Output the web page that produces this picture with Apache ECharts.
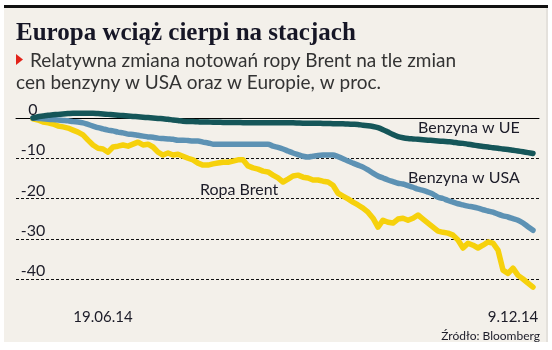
<!DOCTYPE html>
<html><head><meta charset="utf-8">
<script src="https://cdn.jsdelivr.net/npm/echarts@6/dist/echarts.min.js"></script>
<style>html,body{margin:0;padding:0;background:#fff}#c{width:552px;height:350px}</style>
</head><body><div id="c"></div>
<script>
// Relative change, % (one point per step along the period)
const brent = [
 -0.2,-0.5,-1.0,-1.2,-1.5,-2.0,-2.2,-2.5,-3.0,-3.5,
 -4.2,-5.5,-6.7,-7.5,-7.7,-8.5,-7.2,-7.0,-6.7,-7.0,
 -6.5,-6.0,-6.7,-6.5,-7.2,-8.5,-9.2,-8.7,-9.2,-9.0,
 -9.5,-10.0,-10.4,-11.2,-11.7,-11.7,-11.4,-11.2,-11.0,-11.0,
 -10.7,-10.4,-10.4,-11.9,-12.4,-12.7,-13.2,
 -13.4,-14.2,-14.9,-15.9,-15.2,-14.4,-14.2,-14.7,-14.9,-15.4,
 -15.4,-15.7,-15.9,-16.7,-18.7,-19.4,-20.1,-20.9,-21.6,-22.4,
 -23.4,-24.9,-27.1,-25.4,-25.9,-26.1,-25.1,-24.9,-25.4,-24.9,
 -24.1,-25.1,-26.1,-27.1,-28.1,-28.4,-28.6,-29.1,-30.3,-32.3,
 -31.1,-31.6,-32.3,-31.6,-30.8,-31.1,-32.8,-37.8,-38.6,-37.3,
 -39.1,-40.0,-41.0,-42.0
];
const usa = [
 0,-0.1,-0.2,-0.3,-0.4,-0.5,-0.6,-0.7,-0.9,-1.0,
 -1.2,-1.6,-2.0,-2.4,-2.7,-3.0,-3.2,-3.5,-3.7,-4.0,
 -4.1,-4.3,-4.5,-4.7,-4.8,-5.0,-5.1,-5.2,-5.3,-5.5,
 -5.5,-5.6,-5.7,-5.7,-6.0,-6.2,-6.5,-6.5,-6.5,-6.5,
 -6.5,-6.5,-6.5,-6.5,-6.5,-6.5,-6.5,-6.5,-7.0,-7.3,
 -7.7,-8.2,-8.7,-9.1,-9.5,-9.7,-9.5,-9.3,-9.2,-9.2,
 -9.2,-9.6,-10.1,-10.7,-11.2,-11.7,-12.2,-12.9,-13.7,-14.4,
 -14.9,-15.4,-15.8,-16.2,-16.4,-16.8,-17.2,-17.7,-18.0,-18.4,
 -18.9,-19.7,-20.0,-20.5,-20.9,-21.3,-21.6,-21.9,-22.1,-22.4,
 -22.8,-23.1,-23.4,-23.9,-24.3,-24.6,-25.0,-25.4,-26.1,-27.0,
 -27.9
];
const ue = [
 0,0.3,0.5,0.7,0.8,0.9,1.0,1.1,1.2,1.2,
 1.2,1.2,1.2,1.1,1.0,0.9,0.8,0.7,0.6,0.5,
 0.4,0.3,0.2,0.1,0.0,-0.1,-0.2,-0.3,-0.5,-0.6,
 -0.8,-0.85,-0.9,-0.95,-1.0,-1.0,-1.05,-1.05,-1.1,-1.1,
 -1.1,-1.1,-1.15,-1.15,-1.15,-1.2,-1.2,-1.2,-1.2,-1.2,
 -1.2,-1.2,-1.2,-1.25,-1.3,-1.3,-1.3,-1.3,-1.35,-1.35,
 -1.4,-1.4,-1.45,-1.5,-1.55,-1.6,-1.8,-1.9,-2.1,-2.4,
 -2.9,-3.5,-4.1,-4.6,-4.9,-5.1,-5.2,-5.3,-5.4,-5.5,
 -5.6,-5.7,-5.8,-5.9,-6.0,-6.2,-6.3,-6.5,-6.7,-6.9,
 -7.1,-7.2,-7.4,-7.5,-7.7,-7.8,-8.0,-8.2,-8.4,-8.6,
 -8.8
];
const seriesNames = ['Ropa Brent','Benzyna w USA','Benzyna w UE'];
const xTickPos = [14, 96];
const xTickLabels = ['19.06.14','9.12.14'];
const yMin = -40, yMax = 0, yStep = 10;
const titleText = 'Europa wciąż cierpi na stacjach';
const subLine1 = 'Relatywna zmiana notowań ropy Brent na tle zmian';
const subLine2 = 'cen benzyny w USA oraz w Europie, w proc.';
const sourceText = 'Źródło: Bloomberg';

const toPairs = arr => arr.map((v, i) => [i, v]);
const SANS = 'Lato, "Open Sans", sans-serif';
const ink = '#1c1c28';

const chart = echarts.init(document.getElementById('c'), null, {renderer: 'canvas'});
chart.setOption({
  animation: false,
  backgroundColor: 'transparent',
  grid: {left: 16, right: 13, top: 118, bottom: 71, containLabel: false},
  xAxis: {
    type: 'value', min: -3.4, max: 101.2, offset: 25,
    axisLine: {show: true, lineStyle: {color: '#000', width: 1}},
    axisTick: {show: false},
    splitLine: {show: false},
    axisLabel: {
      customValues: xTickPos, margin: 6, color: ink, fontSize: 15, fontFamily: SANS,
      formatter: v => xTickLabels[xTickPos.indexOf(v)] || ''
    }
  },
  yAxis: {
    type: 'value', min: yMin, max: yMax, interval: yStep,
    axisLine: {show: false}, axisTick: {show: false},
    splitLine: {show: true, lineStyle: {color: '#111', width: 1, type: [3, 2]}},
    axisLabel: {inside: true, margin: 17, align: 'center', verticalAlign: 'bottom',
      color: ink, fontSize: 16, fontFamily: SANS}
  },
  series: [
    {name: seriesNames[0], type: 'line', data: toPairs(brent), showSymbol: false, clip: false,
      lineStyle: {color: '#f6d10c', width: 5.5, join: 'round', cap: 'round'}, z: 2},
    {name: seriesNames[1], type: 'line', data: toPairs(usa), showSymbol: false, clip: false, smooth: 0.3,
      lineStyle: {color: '#5d92b4', width: 5.5, cap: 'round'}, z: 3},
    {name: seriesNames[2], type: 'line', data: toPairs(ue), showSymbol: false, clip: false, smooth: 0.3,
      lineStyle: {color: '#155659', width: 5.5, cap: 'round'}, z: 4}
  ],
  graphic: [
    {type: 'rect', z: -10, silent: true, shape: {x: 4, y: 8, width: 542, height: 334}, style: {fill: '#f3f0ea'}},
    {type: 'rect', z: -9, silent: true, shape: {x: 546, y: 8, width: 2, height: 334}, style: {fill: '#e4e1dc'}},
    {type: 'rect', z: -9, silent: true, shape: {x: 4, y: 5, width: 544, height: 3}, style: {fill: '#111'}},
    {type: 'text', z: 10, x: 16, y: 34, style: {text: titleText, fill: '#161626',
      font: 'bold 25px "Liberation Serif", serif', verticalAlign: 'middle'}},
    {type: 'polygon', z: 10, shape: {points: [[16, 54], [23, 59.5], [16, 65]]}, style: {fill: '#e2231a'}},
    {type: 'text', z: 10, x: 30, y: 61, style: {text: subLine1, fill: '#333',
      font: '19px ' + SANS, verticalAlign: 'middle'}},
    {type: 'text', z: 10, x: 16, y: 83, style: {text: subLine2, fill: '#333',
      font: '19px ' + SANS, verticalAlign: 'middle'}},
    {type: 'text', z: 10, x: 418, y: 128, style: {text: seriesNames[2], fill: ink,
      font: '16px ' + SANS, verticalAlign: 'middle'}},
    {type: 'text', z: 10, x: 408, y: 178, style: {text: seriesNames[1], fill: ink,
      font: '16px ' + SANS, verticalAlign: 'middle'}},
    {type: 'text', z: 10, x: 200, y: 190, style: {text: seriesNames[0], fill: ink,
      font: '16px ' + SANS, verticalAlign: 'middle'}},
    {type: 'text', z: 10, x: 540, y: 336, style: {text: sourceText, fill: ink,
      font: '12px ' + SANS, align: 'right', verticalAlign: 'middle'}}
  ]
});
</script>
</body></html>
